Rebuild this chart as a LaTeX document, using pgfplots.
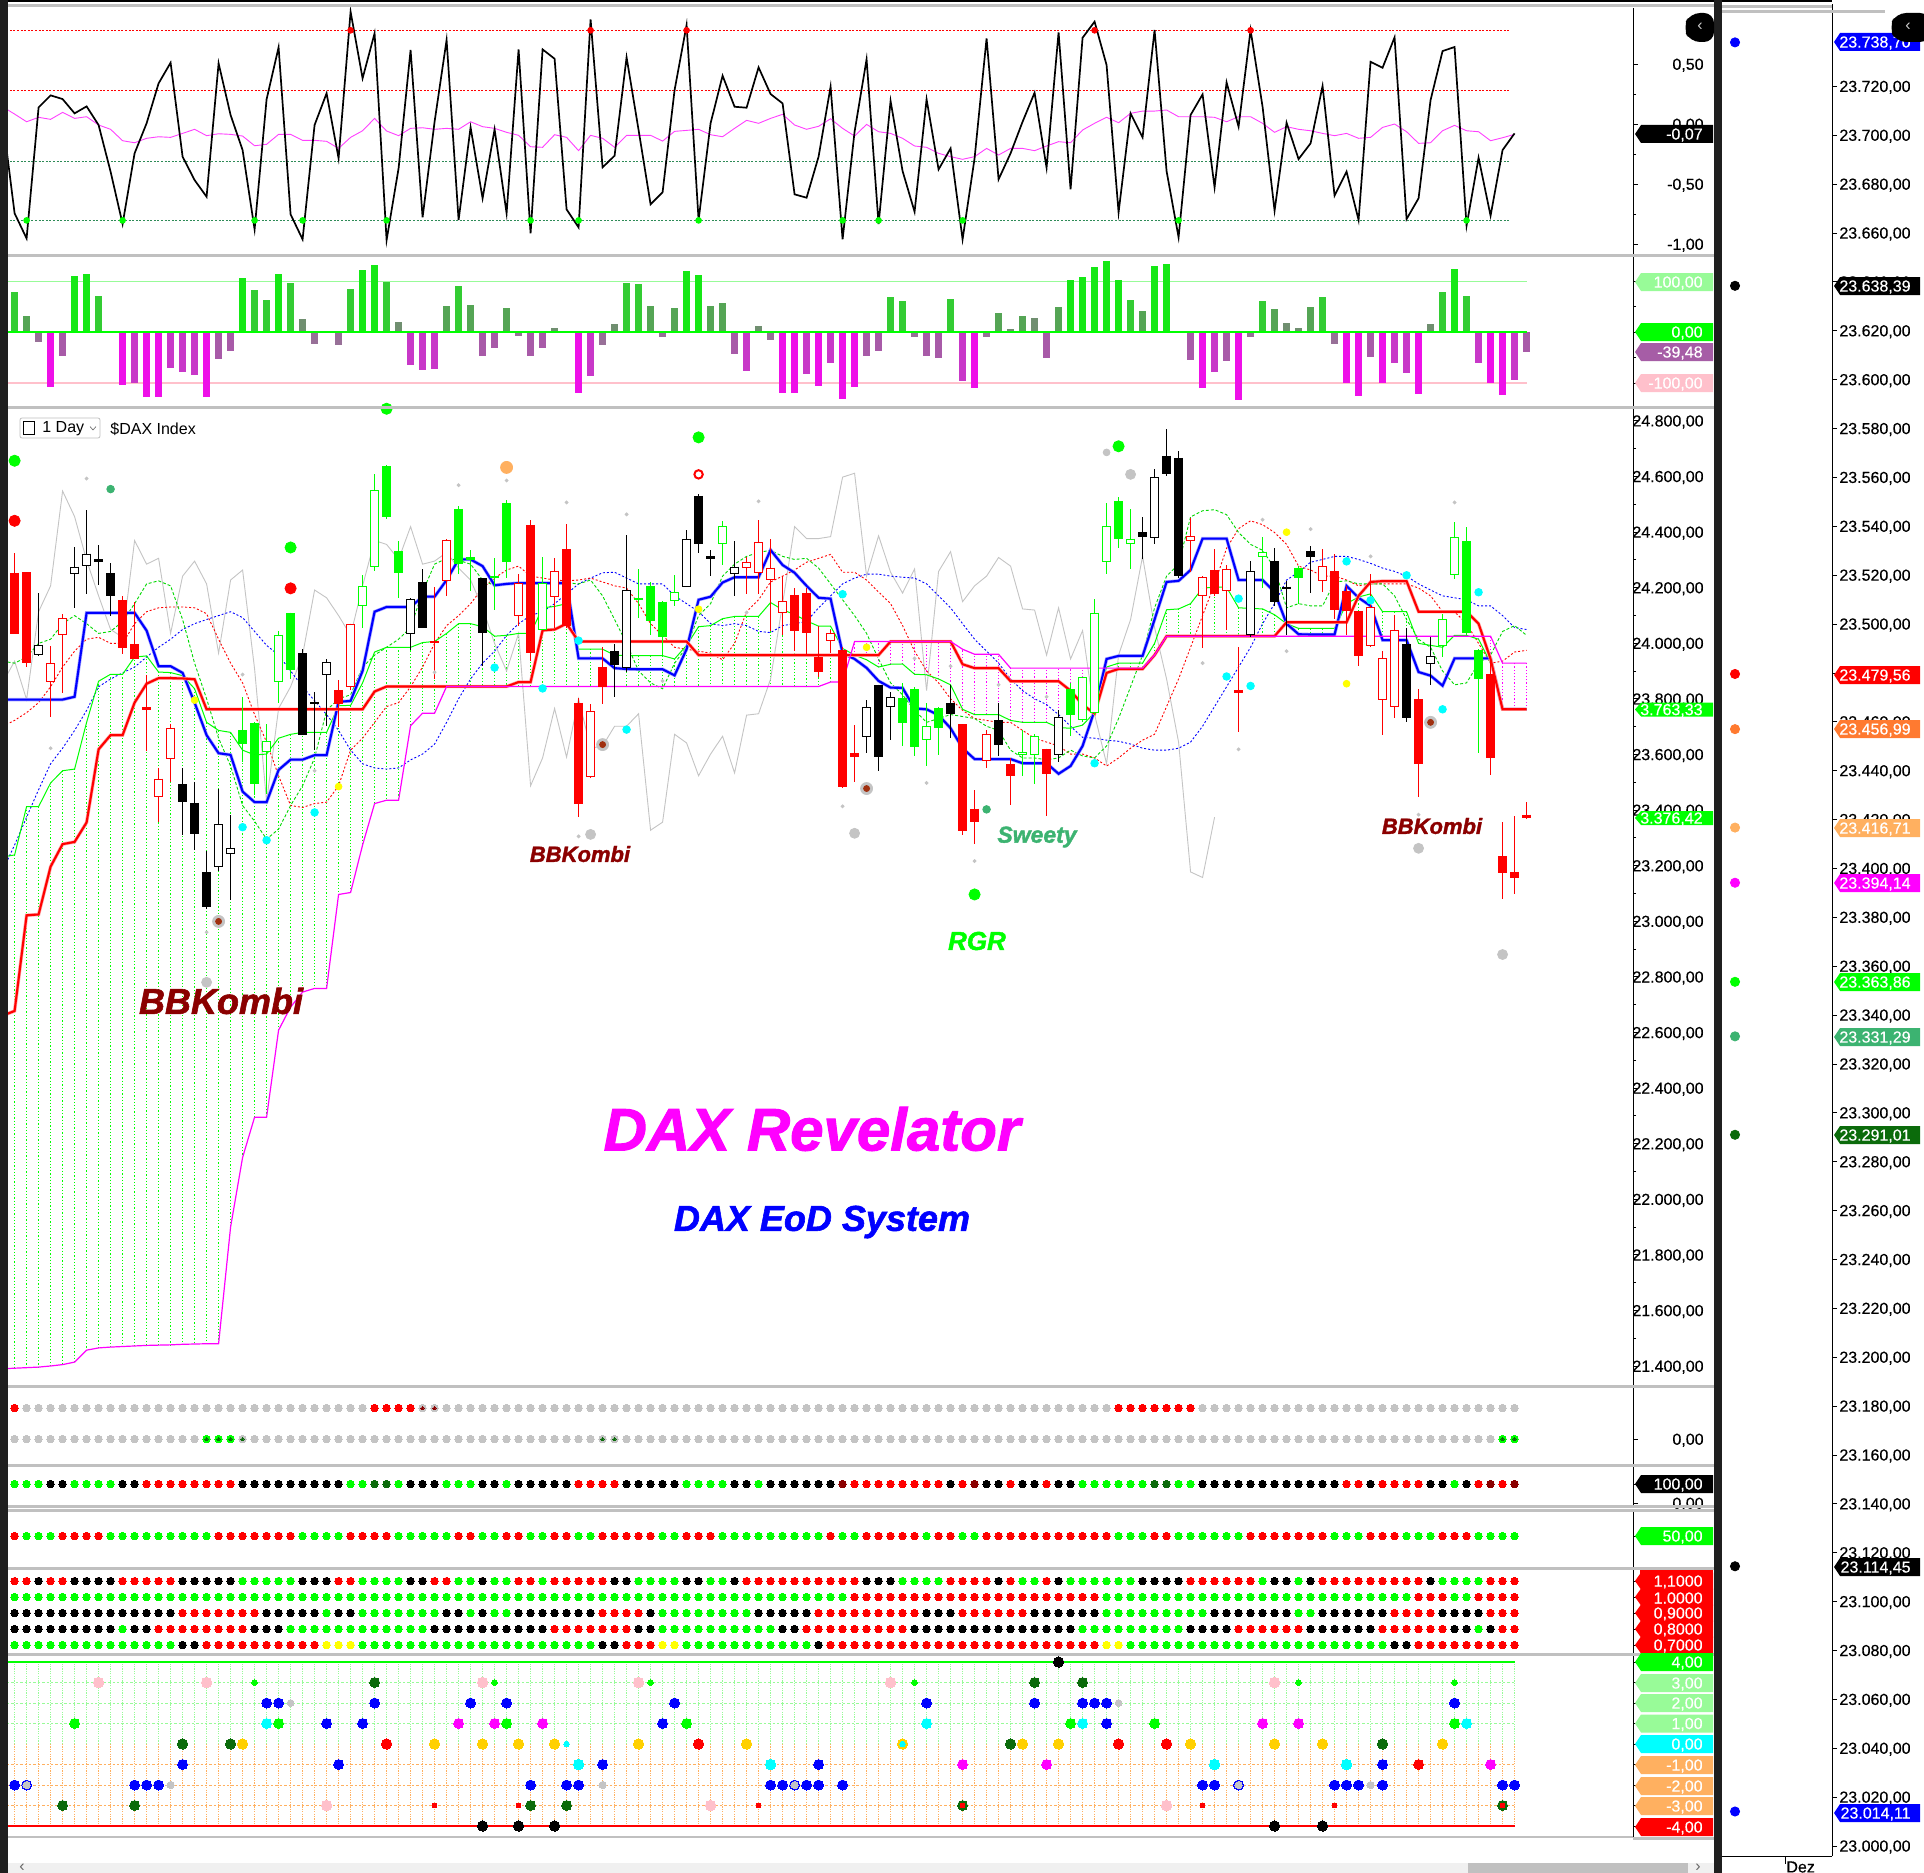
\documentclass[border=0pt]{standalone}
\usepackage{fontspec}
\setmainfont{Liberation Sans}
\usepackage{pgfplots}
\usepackage{pgfplotstable}
\pgfplotsset{compat=1.18}
\definecolor{sg}{HTML}{2E8B57}
\definecolor{sweety}{HTML}{3CB371}
\definecolor{dg}{HTML}{0B6B0B}
\definecolor{dr}{HTML}{8B0000}
\definecolor{lime}{HTML}{00FF00}
\definecolor{gry}{HTML}{C4C4C4}
\definecolor{sep}{HTML}{C0C0C0}
\definecolor{gold}{HTML}{FFD000}
\definecolor{pnk}{HTML}{FFC0CB}
\definecolor{orng}{HTML}{FFB060}
\definecolor{orng2}{HTML}{FF7A30}
\definecolor{palegr}{HTML}{98FB98}
\definecolor{purp}{HTML}{A65DA6}
\definecolor{mag}{HTML}{FF00FF}
\definecolor{magthin}{HTML}{FF40FF}
\definecolor{brn}{HTML}{A03010}
\definecolor{cyn}{HTML}{00FFFF}
\definecolor{yel}{HTML}{FFFF00}
\newfontfamily\heavy[FakeBold=1.6]{Liberation Sans}
\newfontfamily\lab[FakeBold=0.35]{Liberation Sans}
\newcommand\fs{\lab\fontsize{8}{9}\selectfont}
\newcommand\fp{\fontsize{8}{9}\selectfont}
% main-panel lines
\pgfplotstableread{
i blue red green mag
-1 23797 22660 23231 21390
0 23797 22677 23238 21392
1 23797 23021 23412 21394
2 23797 23024 23412 21396
3 23797 23196 23497 21400
4 23797 23277 23541 21405
5 23807 23285 23547 21414
6 24109 23355 23715 21457
7 24109 23618 23863 21465
8 24109 23669 23888 21468
9 24109 23669 23888 21470
10 24109 23786 23950 21472
11 24045 23854 23954 21474
12 23917 23874 23896 21475
13 23917 23874 23894 21476
14 23893 23873 23883 21478
15 23786 23870 23836 21479
16 23669 23762 23715 21480
17 23604 23762 23686 21480
18 23598 23762 23679 21900
19 23466 23762 23615 22150
20 23428 23762 23598 22295
21 23428 23762 23601 22295
22 23544 23762 23658 22608
23 23581 23762 23672 22691
24 23581 23762 23679 22745
25 23597 23762 23679 22758
26 23597 23762 23679 22758
27 23789 23762 23775 23096
28 23792 23762 23776 23103
29 23900 23762 23857 23274
30 24113 23826 23968 23423
31 24130 23844 23985 23435
32 24130 23844 23985 23435
33 24130 23844 23985 23703
34 24167 23844 24002 23748
35 24167 23844 24006 23748
36 24227 23844 24035 23844
37 24301 23844 24070 23844
38 24301 23844 24070 23844
39 24277 23844 24059 23844
40 24208 23844 24025 23844
41 24213 23844 24028 23844
42 24216 23860 24035 23844
43 24216 23860 24035 23844
44 24216 24046 24127 23844
45 24216 24049 24132 23844
46 24216 24070 24142 23844
47 23945 24006 23978 23844
48 23945 24006 23978 23844
49 23945 24006 23978 23844
50 23910 24006 23957 23844
51 23907 24006 23955 23844
52 23906 24006 23955 23844
53 23906 24006 23955 23844
54 23906 24006 23955 23844
55 23884 24006 23943 23844
56 23978 24006 23992 23844
57 24156 23957 24059 23844
58 24167 23957 24063 23844
59 24218 23957 24088 23844
60 24237 23957 24096 23844
61 24237 23957 24096 23844
62 24237 23957 24096 23844
63 24335 23957 24146 23844
64 24281 23957 24120 23844
65 24253 23957 24103 23844
66 24206 23957 24080 23844
67 24163 23957 24061 23844
68 24160 23957 24061 23860
69 23964 23957 23981 23860
70 23943 23957 23957 24006
71 23911 23957 23940 24006
72 23864 23957 23914 24006
73 23840 24006 23924 24006
74 23839 24006 23925 24006
75 23765 24006 23888 24006
76 23762 24006 23886 24006
77 23741 24006 23871 24006
78 23694 24006 23850 24006
79 23622 23924 23762 23978
80 23583 23910 23743 23960
81 23583 23910 23743 23960
82 23583 23910 23743 23960
83 23583 23863 23722 23910
84 23568 23863 23715 23910
85 23568 23863 23715 23910
86 23568 23863 23715 23910
87 23530 23863 23696 23910
88 23558 23829 23694 23910
89 23630 23779 23705 23910
90 23758 23746 23750 23910
91 23943 23893 23914 23910
92 23954 23907 23928 23910
93 23954 23907 23928 23910
94 23954 23907 23928 23910
95 24085 23957 23999 23957
96 24220 24025 24120 24025
97 24224 24025 24123 24025
98 24263 24025 24142 24025
99 24376 24025 24198 24025
100 24376 24025 24201 24025
101 24376 24025 24201 24025
102 24227 24025 24127 24025
103 24227 24025 24125 24025
104 24227 24025 24123 24025
105 24184 24025 24102 24025
106 24070 24075 24070 24025
107 24032 24075 24053 24025
108 24031 24075 24053 24025
109 24031 24075 24053 24025
110 24031 24075 24053 24025
111 24206 24075 24142 24025
112 24163 24170 24166 24025
113 24134 24220 24177 24025
114 24011 24223 24113 24025
115 24011 24223 24113 24025
116 24011 24223 24113 24025
117 23896 24113 23999 24025
118 23883 24113 23992 24025
119 23847 24113 23985 24025
120 23945 24113 24028 24025
121 23945 24113 24028 24025
122 23945 24070 24014 24025
123 23945 23943 23928 24025
124 23762 23762 23762 23928
125 23762 23762 23762 23928
126 23762 23762 23762 23928
}\mainlines
% dashed lines and grey line
\pgfplotstableread{
i rd gd bd
-1 23701 23935 23182
0 23722 23928 23274
1 23750 23950 23374
2 23786 23999 23473
3 23843 24014 23566
4 23914 24070 23622
5 23971 24099 23686
6 24014 24070 23758
7 24021 24035 23843
8 23999 24042 23871
9 23999 24078 23893
10 24070 24142 23914
11 24113 24213 23950
12 24127 24224 23985
13 24130 24206 24014
14 24130 24085 24049
15 24127 23928 24070
16 24106 23800 24085
17 24014 23658 24099
18 23928 23558 24113
19 23857 23416 24092
20 23743 23359 24042
21 23644 23295 23992
22 23523 23331 23957
23 23416 23416 23900
24 23409 23487 23843
25 23423 23587 23793
26 23428 23758 23743
27 23487 23800 23686
28 23615 23814 23615
29 23658 23914 23566
30 23715 23957 23551
31 23772 23985 23547
32 23786 24014 23551
33 23843 24056 23580
34 23914 24184 23601
35 23999 24284 23637
36 24063 24305 23715
37 24099 24298 23800
38 24142 24284 23871
39 24198 24227 23928
40 24234 24206 23971
41 24263 24213 24028
42 24277 24217 24070
43 24241 24217 24099
44 24234 24217 24113
45 24227 24217 24142
46 24224 24217 24177
47 24227 24213 24213
48 24234 24227 24234
49 24220 24170 24253
50 24206 24085 24255
51 24198 23999 24234
52 24142 23900 24213
53 24070 23857 24213
54 24028 23836 24213
55 23985 23928 24170
56 23978 23985 24142
57 23971 24099 24113
58 23964 24142 24070
59 23940 24241 24063
60 23999 24284 24070
61 24113 24312 24063
62 24156 24326 24042
63 24220 24334 24038
64 24241 24312 24063
65 24263 24301 24070
66 24291 24305 24078
67 24305 24270 24127
68 24319 24213 24170
69 24255 24156 24213
70 24255 24099 24234
71 24227 24035 24248
72 24184 23943 24248
73 24142 23857 24241
74 24063 23814 24237
75 23971 23758 24234
76 23900 23715 24213
77 23857 23729 24170
78 23800 23743 24127
79 23758 23736 24070
80 23729 23729 24014
81 23722 23701 23971
82 23715 23686 23928
83 23715 23615 23871
84 23686 23587 23829
85 23658 23587 23800
86 23644 23580 23779
87 23630 23587 23743
88 23601 23615 23701
89 23601 23594 23661
90 23587 23587 23658
91 23558 23630 23651
92 23587 23729 23647
93 23622 23843 23637
94 23651 23957 23622
95 23672 24127 23615
96 23772 24241 23615
97 23871 24284 23622
98 23985 24454 23644
99 24099 24476 23701
100 24213 24480 23772
101 24341 24462 23843
102 24412 24398 23914
103 24440 24355 23985
104 24426 24334 24070
105 24398 24270 24142
106 24355 24127 24227
107 24277 24142 24255
108 24263 24134 24291
109 24241 24134 24301
110 24241 24220 24312
111 24227 24224 24312
112 24206 24213 24301
113 24213 24213 24287
114 24213 24213 24270
115 24213 24170 24258
116 24213 24085 24241
117 24198 24014 24213
118 24170 23985 24191
119 24113 23900 24170
120 24113 23850 24163
121 24070 23857 24156
122 23999 23928 24134
123 23928 23957 24134
124 23935 24042 24099
125 23968 24063 24056
126 23974 24028 24049
}\dashlines
\pgfplotstableread{
i g
-1 23857
0 23935
1 23797
2 24113
3 24206
4 24547
5 24455
6 24298
7 24170
8 24049
9 24021
10 24369
11 24284
12 24305
13 24035
14 24241
15 24295
16 24213
17 23964
18 24227
19 24263
20 23907
21 23430
22 23765
23 23843
24 23957
25 24191
26 24163
27 24099
28 24028
29 24206
30 24369
31 24355
32 24301
33 24419
34 24284
35 24295
36 24326
37 24270
38 24227
39 24127
40 23999
41 23900
42 24035
43 23487
44 23587
45 23765
46 23590
47 23800
48 23622
49 23630
50 23701
51 23701
52 23746
53 23327
54 23356
55 23672
56 23641
57 23523
58 23601
59 23665
60 23533
61 23741
62 23746
63 23871
64 24142
65 24419
66 24376
67 24376
68 24383
69 24597
70 24611
71 24241
72 24386
73 24255
74 24180
75 24267
76 23829
77 24258
78 24329
79 24149
80 24206
81 24241
82 24308
83 24277
84 24123
85 24119
86 23957
87 24127
88 23943
89 24045
90 23743
91 23566
92 23957
93 24085
94 24312
95 24056
96 23871
97 23644
98 23177
99 23157
100 23374
}\greyline
% candles: i top bottom low high
\pgfplotstableread{
i t b l h
0 24253 24032 24032 24324
1 24255 23928 23914 24255
9 24154 23982 23961 24170
10 23996 23942 23942 24149
11 23769 23759 23612 23886
27 23832 23780 23698 23866
35 24009 23999 23871 24203
43 24425 23964 23935 24443
46 24338 24063 24056 24430
47 23785 23423 23376 23803
49 23914 23843 23782 23985
65 24173 24042 23971 24198
66 24180 24038 23957 24198
67 23950 23897 23878 24063
69 23975 23483 23480 23985
70 23604 23591 23501 23705
79 23709 23325 23310 23709
80 23405 23355 23277 23473
83 23566 23523 23419 23587
86 23620 23530 23378 23620
100 24263 24177 24170 24338
102 23832 23822 23682 23985
110 24260 24120 24085 24322
111 24187 24117 24028 24206
112 24116 23955 23918 24116
117 23799 23567 23447 23834
123 23888 23587 23527 23935
124 23234 23174 23079 23356
125 23177 23156 23099 23378
126 23383 23372 23369 23430
}\redF
\pgfplotstableread{
i t b l h
3 23927 23861 23736 23989
4 24089 24031 23822 24103
12 23513 23445 23355 23551
13 23696 23584 23499 23708
28 24070 23843 23832 24070
36 24371 24224 24170 24376
42 24216 24096 24063 24248
45 24261 24167 24056 24305
48 23755 23519 23516 23782
61 24291 24271 24177 24309
62 24362 24254 24177 24443
63 24272 24227 24042 24376
64 24150 24107 24028 24241
68 24035 24009 23964 24049
81 23672 23575 23551 23686
98 24386 24369 24255 24450
99 24237 24169 23982 24241
101 24268 24186 24049 24281
109 24277 24225 24184 24338
113 24129 23988 23985 24248
114 23945 23797 23669 23971
115 24046 23772 23729 24102
}\redH
\pgfplotstableread{
i t b l h
7 24301 24293 24210 24352
8 24253 24170 24096 24288
14 23493 23430 23310 23551
15 23425 23315 23257 23502
16 23177 23051 23044 23253
24 23964 23669 23669 23978
25 23789 23781 23615 23824
34 24220 24056 24056 24267
39 24234 24038 23917 24234
50 23972 23921 23805 23997
57 24530 24358 24324 24537
58 24312 24304 24241 24334
72 23850 23591 23540 23850
78 23783 23746 23658 23850
82 23722 23634 23594 23786
94 24398 24383 24302 24454
96 24674 24608 24601 24770
97 24666 24241 24234 24691
105 24295 24147 24134 24341
106 24203 24195 24028 24224
108 24331 24308 24180 24348
116 23997 23732 23718 24056
}\blackF
\pgfplotstableread{
i t b l h
2 23995 23957 23954 24181
5 24275 24250 24127 24345
6 24322 24278 24177 24479
17 23348 23193 23182 23477
18 23264 23241 23075 23383
26 23931 23884 23701 23942
33 24157 24033 23975 24163
51 24190 23910 23897 24390
56 24376 24203 24203 24408
60 24275 24250 24170 24369
71 23769 23661 23605 23797
73 23805 23769 23651 23826
87 23736 23598 23573 23758
95 24597 24379 24358 24628
103 24258 24031 24021 24294
118 23955 23924 23850 24021
}\blackH
\pgfplotstableread{
i t b l h
19 23686 23637 23573 23807
20 23711 23494 23452 23715
23 24109 23903 23871 24109
31 24637 24452 24447 24639
32 24331 24253 24163 24366
37 24483 24285 24248 24493
38 24308 24300 24187 24335
40 24241 24233 24120 24305
41 24504 24292 24234 24514
52 24163 24155 24092 24265
53 24206 24078 24028 24220
54 24149 24022 23957 24152
74 23803 23712 23630 23857
75 23834 23627 23594 23843
77 23765 23696 23598 23769
88 23834 23743 23665 23857
92 24511 24376 24341 24526
107 24272 24234 24142 24277
121 24368 24036 24028 24416
122 23975 23871 23605 23978
}\greenF
\pgfplotstableread{
i t b l h
21 23647 23607 23459 23708
22 24031 23861 23783 24042
29 24204 24132 24056 24245
30 24550 24275 24258 24607
44 24216 24049 24049 24308
55 24183 24153 24134 24244
59 24420 24355 24281 24440
76 23701 23650 23558 23783
84 23607 23598 23523 23686
85 23665 23598 23494 23672
89 23877 23722 23715 23878
90 24110 23750 23743 24160
91 24420 24291 24247 24503
93 24376 24355 24267 24483
104 24329 24308 24198 24383
119 24085 23988 23950 24106
120 24380 24244 24231 24437
}\greenH
% helpers
\pgfplotsset{nomark/.style={only marks, mark=*, mark size=0pt, mark options={draw=none,fill=none}}}
\newcommand\RowPlot[3]{\gdef\tmpc{}\foreach \k in {#3}{\xdef\tmpc{\tmpc(\k,#2)}}%
 \edef\tmpd{\noexpand\addplot[#1] coordinates {\tmpc};}\tmpd}
\newcommand\Dots[4][1.85pt]{\RowPlot{only marks, mark=*, mark size=#1, mark options={draw=#3, fill=#3, line width=0pt}}{#2}{#4}}
\newcommand\Body[3]{% table, colour, hollow(1/0)
 \addplot[nomark, forget plot, error bars/.cd, y dir=both, y explicit, error mark=none,
   error bar style={line width=0.6pt, color=#2}] table[x=i, y=t, y error plus expr=\thisrow{h}-\thisrow{t}, y error minus expr=\thisrow{t}-\thisrow{l}] {#1};
 \addplot[nomark, forget plot, error bars/.cd, y dir=minus, y explicit, error mark=none,
   error bar style={line width=4.2pt, color=#2}] table[x=i, y=t, y error minus expr=\thisrow{t}-\thisrow{b}] {#1};
 \ifnum#3=1
 \addplot[nomark, forget plot, error bars/.cd, y dir=minus, y explicit, error mark=none,
   error bar style={line width=3.2pt, color=white}] table[x=i, y expr=\thisrow{t}-3.6, y error minus expr=\thisrow{t}-\thisrow{b}-7.2] {#1};
 \fi}
\newcommand\Tag[5]{% y,h,fill,textcolour,text
 \fill[#3] (1635,#1) -- (1641,{#1-#2/2}) -- (1713,{#1-#2/2}) -- (1713,{#1+#2/2}) -- (1641,{#1+#2/2}) -- cycle;
 \node[anchor=east, inner sep=0pt, text=#4, font=\fs] at (1703,{#1+1}) {#5};}
\newcommand\RTag[4]{% y,fill,textcolour,text
 \fill[#2] (1834,#1) -- (1840,{#1-9}) -- (1920,{#1-9}) -- (1920,{#1+9}) -- (1840,{#1+9}) -- cycle;
 \node[anchor=east, inner sep=0pt, text=#3, font=\fs] at (1911,{#1+1}) {#4};}
\pgfplotsset{panel/.style={scale only axis, anchor=north west, width=812.5pt, xmin=-0.55, xmax=134.87,
  axis x line=none, axis y line=right, axis line style={-,line width=0.5pt}, tick style={black,line width=0.4pt},
  major tick length=2.5pt, minor tick length=1.5pt, tick align=outside, enlargelimits=false, clip=true, scaled y ticks=false,
  yticklabel style={font=\fs, anchor=east, xshift=33pt, yshift=-0.6pt, inner sep=0pt},
  /pgf/number format/.cd, fixed, fixed zerofill, precision=2, use comma, assume math mode=true}}
\begin{document}
\begin{tikzpicture}
\useasboundingbox (0,0) rectangle (962pt,-936.5pt);
\fill[white] (0,0) rectangle (962pt,-936.5pt);
% panel 1
\begin{axis}[panel, at={(4pt,-4pt)}, height=123pt, ymin=-1.083, ymax=0.967, ytick={-1,-0.5,0,0.5}, minor y tick num=1]
\addplot[red, line width=0.6pt, dash pattern=on 1pt off 0.8pt] coordinates {(-1,0.781)(124.7,0.781)};
\addplot[red, line width=0.6pt, dash pattern=on 1pt off 0.8pt] coordinates {(-1,0.281)(124.7,0.281)};
\addplot[sg, line width=0.6pt, dash pattern=on 1pt off 0.8pt] coordinates {(-1,-0.311)(124.7,-0.311)};
\addplot[sg, line width=0.6pt, dash pattern=on 1pt off 0.8pt] coordinates {(-1,-0.803)(124.7,-0.803)};
\addplot[magthin, line width=0.45pt] coordinates {(-1,.144)(0,.083)(1,.019)(2,.056)(3,.039)(4,.097)(5,.047)(6,.061)(7,-.008)(8,-.044)(9,-.139)(10,-.156)(11,-.119)(12,-.106)(13,-.111)(14,-.078)(15,-.044)(16,-.097)(17,-.081)(18,-.086)(19,-.1)(20,-.181)(21,-.169)(22,-.086)(23,-.086)(24,-.136)(25,-.136)(26,-.144)(27,-.203)(28,-.111)(29,-.056)(30,.047)(31,-.058)(32,-.097)(33,-.036)(34,-.031)(35,-.044)(36,-.036)(37,-.044)(38,.019)(39,-.022)(40,-.036)(41,-.069)(42,-.094)(43,-.189)(44,-.194)(45,-.089)(46,-.111)(47,-.222)(48,-.094)(49,-.119)(50,-.194)(51,-.094)(52,-.094)(53,-.094)(54,-.142)(55,-.061)(56,-.053)(57,-.044)(58,-.089)(59,-.106)(60,-.036)(61,.031)(62,.006)(63,.047)(64,.081)(65,-.008)(66,-.044)(67,-.019)(68,.044)(69,-.036)(70,-.1)(71,-.003)(72,-.064)(73,-.078)(74,-.119)(75,-.183)(76,-.194)(77,-.244)(78,-.272)(79,-.294)(80,-.272)(81,-.203)(82,-.258)(83,-.203)(84,-.203)(85,-.222)(86,-.183)(87,-.147)(88,-.156)(89,-.05)(90,.006)(91,.056)(92,.011)(93,.089)(94,.108)(95,.108)(96,.117)(97,.061)(98,.061)(99,.061)(100,.056)(101,.019)(102,.061)(103,.061)(104,.006)(105,-.069)(106,-.022)(107,-.044)(108,-.056)(109,-.078)(110,-.097)(111,-.078)(112,-.119)(113,-.111)(114,-.028)(115,0)(116,-.064)(117,-.161)(118,-.156)(119,-.056)(120,-.011)(121,-.056)(122,-.064)(123,-.139)(124,-.114)(125,-.086)};
\addplot[black, line width=0.85pt] coordinates {(-1,.05)(0,-.744)(1,-.953)(2,.139)(3,.239)(4,.208)(5,.089)(6,.147)(7,-.008)(8,-.397)(9,-.833)(10,-.244)(11,.006)(12,.339)(13,.511)(14,-.272)(15,-.467)(16,-.606)(17,.506)(18,.075)(19,-.217)(20,-.878)(21,.206)(22,.639)(23,-.753)(24,-.961)(25,-.008)(26,.256)(27,-.286)(28,.936)(29,.381)(30,.756)(31,-.967)(32,-.369)(33,.617)(34,-.778)(35,.019)(36,.7)(37,-.8)(38,-.028)(39,-.619)(40,-.044)(41,-.744)(42,.622)(43,-.911)(44,.622)(45,.544)(46,-.711)(47,-.861)(48,.872)(49,-.361)(50,-.264)(51,.556)(52,-.05)(53,-.669)(54,-.569)(55,.283)(56,.825)(57,-.8)(58,.006)(59,.403)(60,.144)(61,.136)(62,.472)(63,.25)(64,.172)(65,-.586)(66,-.614)(67,-.272)(68,.311)(69,-.961)(70,-.064)(71,.539)(72,-.833)(73,.192)(74,-.392)(75,-.731)(76,.206)(77,-.378)(78,-.203)(79,-.961)(80,-.286)(81,.714)(82,-.461)(83,-.244)(84,.019)(85,.261)(86,-.364)(87,.764)(88,-.544)(89,.719)(90,.853)(91,.492)(92,-.736)(93,.089)(94,-.111)(95,.783)(96,-.392)(97,-.944)(98,.075)(99,.247)(100,-.528)(101,.347)(102,-.022)(103,.783)(104,.144)(105,-.722)(106,.011)(107,-.292)(108,-.161)(109,.317)(110,-.597)(111,-.397)(112,-.8)(113,.519)(114,.469)(115,.722)(116,-.792)(117,-.619)(118,.2)(119,.608)(120,.642)(121,-.847)(122,-.281)(123,-.764)(124,-.217)(125,-.078)};
\addplot[only marks, mark=*, mark size=1.45pt, mark options={draw=red,fill=red}] coordinates {(28,.781)(48,.781)(56,.781)(90,.781)(103,.781)};
\addplot[only marks, mark=*, mark size=1.45pt, mark options={draw=lime,fill=lime}] coordinates {(1,-.803)(9,-.803)(20,-.803)(24,-.803)(31,-.803)(43,-.803)(47,-.803)(57,-.803)(69,-.803)(72,-.803)(79,-.803)(97,-.803)(121,-.803)};
\end{axis}
% panel 2
\begin{axis}[panel, at={(4pt,-128.5pt)}, height=74.5pt, ymin=-145.1, ymax=148.2, ytick={-100,0,100}, minor y tick num=1, yticklabels={}]
\addplot[palegr, line width=0.6pt] coordinates {(-1,100)(126,100)};
\addplot[pnk, line width=0.6pt] coordinates {(-1,-100)(126,-100)};
\addplot[ycomb, line width=3.5pt, color={rgb,255:red,21;green,232;blue,21}] coordinates {(5,111)(6,115)(19,107)(22,115)(29,123)(30,132)(56,121)(57,113)(88,103)(89,109)(90,129)(91,140)(92,103)(95,131)(96,135)(120,125)};
\addplot[ycomb, line width=3.5pt, color={rgb,255:red,51;green,204;blue,51}] coordinates {(0,79)(7,72)(20,83)(21,64)(23,97)(28,85)(31,99)(37,91)(51,97)(52,95)(73,70)(74,62)(78,66)(93,64)(104,62)(109,70)(119,79)(121,72)};
\addplot[ycomb, line width=3.5pt, color={rgb,255:red,85;green,165;blue,85}] coordinates {(1,32)(36,52)(38,54)(41,48)(53,52)(55,48)(58,52)(59,58)(82,38)(84,32)(87,50)(94,42)(105,46)(108,50)};
\addplot[ycomb, line width=3.5pt, color={rgb,255:red,112;green,143;blue,112}] coordinates {(8,3)(24,26)(32,20)(45,8)(46,3)(50,16)(62,12)(83,7)(85,28)(106,18)(107,9)(118,16)};
\addplot[ycomb, line width=3.5pt, color={rgb,255:red,238;green,16;blue,232}] coordinates {(3,-107)(9,-104)(11,-127)(12,-127)(16,-127)(47,-119)(64,-119)(65,-119)(67,-105)(69,-131)(70,-107)(80,-109)(99,-109)(102,-133)(111,-100)(112,-125)(114,-100)(117,-121)(123,-100)(124,-123)};
\addplot[ycomb, line width=3.5pt, color={rgb,255:red,200;green,56;blue,200}] coordinates {(10,-99)(13,-70)(14,-78)(15,-84)(33,-64)(34,-74)(35,-72)(48,-87)(61,-77)(66,-83)(68,-60)(79,-95)(100,-79)(115,-60)(116,-81)(122,-60)(125,-94)};
\addplot[ycomb, line width=3.5pt, color={rgb,255:red,168;green,90;blue,168}] coordinates {(4,-47)(17,-52)(18,-36)(39,-46)(40,-30)(43,-46)(44,-30)(60,-42)(71,-46)(72,-36)(76,-46)(77,-50)(86,-50)(98,-54)(101,-56)(113,-48)(126,-38)};
\addplot[ycomb, line width=3.5pt, color={rgb,255:red,152;green,112;blue,152}] coordinates {(2,-20)(25,-24)(27,-26)(42,-7)(49,-26)(54,-10)(63,-16)(75,-9)(81,-10)(103,-10)(110,-24)};
\addplot[lime, line width=1pt] coordinates {(-1,0)(126,0)};
\end{axis}
% main panel
\begin{axis}[panel, at={(4pt,-204pt)}, height=489pt, ymin=21328, ymax=24845.7, ytick={21400,21600,...,24800}, minor y tick num=1,
  /pgf/number format/1000 sep={.}]
\addplot[nomark, error bars/.cd, y dir=minus, y explicit, error mark=none, error bar style={lime, line width=0.35pt, dash pattern=on 0.6pt off 1pt}]
  table[x=i, y=green, y error minus expr={max(\thisrow{green}-\thisrow{mag},0)}] {\mainlines};
\addplot[nomark, error bars/.cd, y dir=plus, y explicit, error mark=none, error bar style={mag, line width=0.35pt, dash pattern=on 0.6pt off 1pt}]
  table[x=i, y=green, y error plus expr={max(\thisrow{mag}-\thisrow{green},0)}] {\mainlines};
\addplot[gry, line width=0.45pt] table[x=i,y=g] {\greyline};
\addplot[blue, line width=0.45pt, dash pattern=on 1pt off 1pt] table[x=i,y=bd] {\dashlines};
\addplot[red, line width=0.45pt, dash pattern=on 1pt off 1pt] table[x=i,y=rd] {\dashlines};
\addplot[lime!85!black, line width=0.45pt, dash pattern=on 1.5pt off 1pt] table[x=i,y=gd] {\dashlines};
\addplot[lime, line width=0.5pt] table[x=i,y=green] {\mainlines};
\addplot[blue!35, line width=1.7pt] table[x=i,y=blue] {\mainlines};
\addplot[blue, line width=1.05pt] table[x=i,y=blue] {\mainlines};
\addplot[red!35, line width=1.7pt] table[x=i,y=red] {\mainlines};
\addplot[red, line width=1.05pt] table[x=i,y=red] {\mainlines};
\addplot[mag, line width=0.6pt] table[x=i,y=mag] {\mainlines};
\Body{\redF}{red}{0}
\Body{\redH}{red}{1}
\Body{\blackF}{black}{0}
\Body{\blackH}{black}{1}
\Body{\greenF}{lime}{0}
\Body{\greenH}{lime}{1}
\addplot[only marks, mark=*, mark size=0.75pt, mark options={draw=gry,fill=gry}] coordinates {(6,24592)(3,23622)(37,24568)(41,24585)(46,24506)(51,24463)(62,24510)(19,23887)(16,22960)(35,23895)(47,23305)(25,23541)(61,24110)(54,23864)(76,23497)(69,23413)(75,23945)(78,23917)(80,23216)(82,23850)(86,23807)(99,23928)(102,23618)(106,23971)(104,24444)(108,24410)(113,24312)(117,23383)(120,24506)};
\addplot[only marks, mark=*, mark size=2.5pt, mark options={draw=gry,fill=gry}] coordinates {(16,22780)(48,23312)(70,23316)(93,24607)(117,23262)(124,22880)};
\addplot[only marks, mark=*, mark size=1.7pt, mark options={draw=gry,fill=gry}] coordinates {(91,24686)};
\addplot[only marks, mark=*, mark size=3pt, mark options={draw=gry,fill=gry}] coordinates {(17,22999)(49,23635)(71,23477)(118,23715)};
\addplot[only marks, mark=*, mark size=1.5pt, mark options={draw=brn,fill=brn}] coordinates {(17,22999)(49,23635)(71,23477)(118,23715)};
\addplot[only marks, mark=*, mark size=2.8pt, mark options={draw=lime,fill=lime}] coordinates {(0,24656)(23,24344)(57,24740)(31,24843)(92,24708)(80,23096)};
\addplot[only marks, mark=*, mark size=2.8pt, mark options={draw=red,fill=red}] coordinates {(0,24440)(23,24197)};
\addplot[only marks, mark=*, mark size=2.1pt, mark options={draw=red,fill=white,line width=1pt}] coordinates {(57,24607)};
\addplot[only marks, mark=*, mark size=1.9pt, mark options={draw=sweety,fill=sweety}] coordinates {(8,24554)(81,23402)};
\addplot[only marks, mark=*, mark size=3pt, mark options={draw=orng,fill=orng}] coordinates {(41,24632)};
\addplot[only marks, mark=*, mark size=1.9pt, mark options={draw=cyn,fill=cyn}] coordinates {(19,23338)(21,23291)(25,23391)(40,23912)(44,23837)(47,24009)(51,23689)(69,24176)(101,23880)(103,23846)(102,24160)(90,23568)(111,24294)(113,24154)(116,24244)(119,23762)(122,24183)};
\addplot[only marks, mark=*, mark size=1.7pt, mark options={draw=yel,fill=yel}] coordinates {(15,23795)(27,23484)(57,24122)(71,23985)(106,24399)(111,23854)};
\end{axis}
% status panel A
\begin{axis}[panel, at={(4pt,-694pt)}, height=38pt, ymin=-0.806, ymax=1.645, ytick={0}]
\Dots{1}{gry}{0,1,...,125}
\Dots{0}{gry}{0,1,...,125}
\Dots{1}{red}{0,30,31,32,33,92,93,94,95,96,97,98}
\Dots[0.8pt]{1}{dr}{34,35}
\Dots{0}{lime}{16,17,18,124,125}
\Dots[0.8pt]{0}{dg}{16,17,18,19,49,50,124,125}
\end{axis}
% status panel B
\begin{axis}[panel, at={(4pt,-733.5pt)}, height=19pt, ymin=-10.5, ymax=189.5, ytick={0,100}]
\Dots{100}{lime}{0,1,2,5,6,7,8,28,29,32,36,37,38,41,56,57,58,59,62,89,90,91,92,93,94,97,98,120}
\Dots{100}{dg}{30,31,95,96}
\Dots{100}{black}{3,4,9,10,19,20,...,27,33,34,35,39,40,42,43,44,45,46,51,52,53,54,55,60,61,63,64,65,66,67,68,78,81,82,84,85,87,88,99,100,...,110,113,118,119,121}
\Dots{100}{red}{11,12,...,18,47,48,49,50,70,71,...,77,79,83,86,111,112,114,115,116,117,122,124}
\Dots{100}{dr}{69,80,123,125}
\end{axis}
% status panel C
\begin{axis}[panel, at={(4pt,-755pt)}, height=28.5pt, ymin=19, ymax=76, ytick={50}, yticklabels={}]
\Dots{50}{lime}{0,1,...,125}
\Dots{50}{red}{0,4,5,6,7,17,18,...,23,28,29,30,31,37,38,41,42,45,46,49,50,51,52,53,56,57,58,68,71,72,73,74,75,77,78,81,82,...,91,95,96,103,104,...,109,113,114,115,119,120,121}
\end{axis}
% status panel D
\begin{axis}[panel, at={(4pt,-785pt)}, height=41.5pt, ymin=0.65, ymax=1.169, ytick={0.7,0.8,...,1.1}, yticklabels={}]
\Dots{1.1}{red}{0,1,...,125}
\Dots{1.1}{black}{2,5,6,7,8,14,15,16,17,18,24,25,26,33,34,39,50,51,56,57,60,71,72,73,82,87,94,95,96,97,105,106,108,118}
\Dots{1.1}{lime}{19,20,21,22,23,29,30,31,32,37,38,40,41,44,52,53,54,55,58,59,74,75,76,77,84,85,88,89,90,91,92,93,104,107,119,120,121,122}
\Dots{1.0}{lime}{0,1,...,125}
\Dots{1.0}{red}{70,71,...,90,117,118,119,122,123,124,125}
\Dots{0.9}{red}{0,1,...,125}
\Dots{0.9}{black}{0,1,...,13,21,22,23,24,25,27,28,36,37,39,42,43,...,48,53,62,63,64,65,66,76,77,78,85,86,87,88,89,90,100,101,...,106,109,110,...,114,119,120,121,122}
\Dots{0.9}{lime}{26,29,30,...,35,38,40,41,54,55,...,61,91,92,...,99,107,108}
\Dots{0.8}{red}{0,1,...,125}
\Dots{0.8}{black}{0,1,...,8,10,11,20,21,22,35,36,...,44,52,53,64,65,75,76,...,88,98,99,100,101,108,109,...,113,120,121,123}
\Dots{0.8}{lime}{9,23,24,...,34,54,55,...,63,89,90,...,97,122}
\Dots{0.7}{lime}{0,1,...,125}
\Dots{0.7}{black}{14,15,49,50,67,115,116}
\Dots{0.7}{red}{16,17,...,25,51,52,53,68,69,...,90,117,118,...,125}
\Dots{0.7}{yel}{26,27,28,54,55,91,92}
\end{axis}
% oscillator panel
\begin{axis}[panel, at={(4pt,-828pt)}, height=91.5pt, ymin=-4.634, ymax=4.293, ytick={-4,-3,...,4}, yticklabels={},
  axis x line=bottom, x axis line style={-,line width=0.9pt}, xtick={3,24,47,68,90,113,133}, xticklabels={Jun,Jul,Aug,Sep,Okt,Nov,{}},
  xticklabel style={font=\fs, anchor=north west, inner sep=0pt, xshift=1pt, yshift=-1pt}, x tick style={line width=0.5pt,black}, xtick pos=bottom, major tick length=3.5pt]
\RowPlot{ycomb, no markers, color=palegr, line width=0.35pt, dash pattern=on 0.6pt off 0.6pt}{4}{0,1,...,125}
\RowPlot{ycomb, no markers, color=orng, line width=0.35pt, dash pattern=on 0.6pt off 0.6pt}{-4}{0,1,...,125}
\addplot[palegr, line width=0.5pt, dash pattern=on 1.2pt off 1pt] coordinates {(-1,3)(125,3)};
\addplot[palegr, line width=0.5pt, dash pattern=on 1.2pt off 1pt] coordinates {(-1,2)(125,2)};
\addplot[palegr, line width=0.5pt, dash pattern=on 1.2pt off 1pt] coordinates {(-1,1)(125,1)};
\addplot[orng, line width=0.5pt, dash pattern=on 1.2pt off 1pt] coordinates {(-1,-1)(125,-1)};
\addplot[orng, line width=0.5pt, dash pattern=on 1.2pt off 1pt] coordinates {(-1,-2)(125,-2)};
\addplot[orng, line width=0.5pt, dash pattern=on 1.2pt off 1pt] coordinates {(-1,-3)(125,-3)};
\addplot[lime, line width=0.6pt] coordinates {(-1,4)(125,4)};
\addplot[red, line width=0.6pt] coordinates {(-1,-4)(125,-4)};
\Dots[2.6pt]{4}{black}{87}
\Dots[2.6pt]{3}{pnk}{7,16,39,52,73,105}
\Dots[1.4pt]{3}{lime}{20,40,53,75,107,120}
\Dots[2.5pt]{3}{dg}{30,85,89}
\Dots[2.5pt]{2}{blue}{21,22,30,38,41,55,76,85,89,90,91,120}
\Dots[1.7pt]{2}{gry}{23,92}
\Dots[2.5pt]{1}{lime}{5,22,41,56,88,95,120}
\Dots[2.5pt]{1}{cyn}{21,76,89,121}
\Dots[2.5pt]{1}{blue}{26,29,54,91}
\Dots[2.5pt]{1}{mag}{37,40,44,104,107}
\Dots[2.6pt]{0}{dg}{14,18,83,114}
\Dots[2.6pt]{0}{gold}{19,35,39,42,45,52,61,74,84,87,98,105,109,119}
\Dots[2.6pt]{0}{red}{31,57,92,96}
\Dots[1.4pt]{0}{cyn}{46,74}
\Dots[2.5pt]{-1}{blue}{14,27,49,67,114}
\Dots[2.6pt]{-1}{cyn}{47,63,100,111}
\Dots[2.5pt]{-1}{mag}{79,86,123}
\Dots[2.5pt]{-1}{red}{117}
\Dots[2.5pt]{-2}{blue}{0,1,10,11,12,43,46,47,63,64,65,66,67,69,99,100,102,110,111,112,114,124,125}
\Dots[1.8pt]{-2}{gry}{1,13,49,65,102,113}
\Dots[2.5pt]{-3}{dg}{4,10,43,46,79,124}
\Dots[1.2pt]{-3}{red}{35,42,62,79,99,110,124}
\Dots[2.6pt]{-3}{pnk}{26,58,96}
\Dots[2.6pt]{-4}{black}{39,42,45,105,109}
\end{axis}
% right scale
\begin{axis}[scale only axis, anchor=north west, at={(861pt,-2pt)}, width=55pt, height=926pt, xmin=0, xmax=110, ymin=22995.9, ymax=23753.7,
  axis x line=none, axis y line=right, axis line style={-,line width=0.5pt}, tick style={black,line width=0.4pt}, major tick length=2.5pt, minor tick length=1.5pt, tick align=outside, scaled y ticks=false,
  ytick={23000,23020,...,23720}, minor y tick num=1, yticklabel style={font=\fs, inner sep=0pt, xshift=1pt, yshift=-0.5pt},
  /pgf/number format/.cd, fixed, fixed zerofill, precision=2, use comma, 1000 sep={.}, assume math mode=true]
\addplot[only marks, mark=*, mark size=2.3pt, mark options={draw=blue,fill=blue}] coordinates {(13,23738)(13,23014.11)};
\addplot[only marks, mark=*, mark size=2.3pt, mark options={draw=black,fill=black}] coordinates {(13,23638.39)(13,23114.45)};
\addplot[only marks, mark=*, mark size=2.3pt, mark options={draw=red,fill=red}] coordinates {(13,23479.56)};
\addplot[only marks, mark=*, mark size=2.3pt, mark options={draw=orng2,fill=orng2}] coordinates {(13,23456.99)};
\addplot[only marks, mark=*, mark size=2.3pt, mark options={draw=orng,fill=orng}] coordinates {(13,23416.71)};
\addplot[only marks, mark=*, mark size=2.3pt, mark options={draw=mag,fill=mag}] coordinates {(13,23394.14)};
\addplot[only marks, mark=*, mark size=2.3pt, mark options={draw=lime,fill=lime}] coordinates {(13,23353.6)};
\addplot[only marks, mark=*, mark size=2.3pt, mark options={draw=sweety,fill=sweety}] coordinates {(13,23331.29)};
\addplot[only marks, mark=*, mark size=2.3pt, mark options={draw=dg,fill=dg}] coordinates {(13,23291.01)};
\end{axis}
\begin{scope}[x=0.5pt,y=-0.5pt]
% frame pieces
\fill[black] (0,0) rectangle (1832,2);
\fill[sep] (8,4) rectangle (1714,7);
\fill[sep] (1722,5) rectangle (1832,8.5);
\fill[sep] (1722,10) rectangle (1885,13);
\foreach \yy in {254,406,1385,1464,1505,1509,1566.5,1653}{\fill[sep] (8,\yy) rectangle (1714,\yy+3);}
\fill[sep] (1633,1837) rectangle (1714,1840);
\fill[sep] (8,1836) rectangle (1633,1838);
\fill[black!6] (8,1863) rectangle (1714,1873);
\fill[sep] (1468,1863) rectangle (1688,1873);
\node[font=\fp, text=black!60] at (22,1868) {‹};
\node[font=\fp, text=black!60] at (1698,1868) {›};
\fill[black!88] (0,0) rectangle (8,1873);
\fill[black!88] (1714,0) rectangle (1722,1873);
\draw[black, line width=0.5pt] (1722,1856) -- (1832,1856);
\draw[black, line width=0.4pt] (1785,1856) -- (1785,1864);
\node[anchor=west, font=\fs, inner sep=0pt] at (1786,1867) {Dez};
% selector
\draw[black!25, rounded corners=1pt, line width=0.4pt, fill=white] (20,418) rectangle (100,438);
\draw[black, line width=0.4pt] (23.5,421.5) rectangle (34,434.5);
\node[anchor=west, font=\fp, inner sep=0pt] at (42,429) {1 Day};
\draw[black!60, line width=0.3pt] (90,426.5) -- (93,430) -- (96,426.5);
\node[anchor=west, font=\fp, inner sep=0pt] at (110,429) {\$DAX Index};
% titles
\node[font={\heavy\bfseries\itshape\fontsize{18}{20}\selectfont}, text=dr] at (221,1001) {BBKombi};
\node[font={\heavy\bfseries\itshape\fontsize{11}{12}\selectfont}, text=dr] at (580,854) {BBKombi};
\node[font={\heavy\bfseries\itshape\fontsize{11}{12}\selectfont}, text=dr] at (1432,826) {BBKombi};
\node[font={\heavy\bfseries\itshape\fontsize{11.5}{12}\selectfont}, text=sweety] at (1037,837) {Sweety};
\node[font={\heavy\bfseries\itshape\fontsize{13}{14}\selectfont}, text=lime] at (977,941) {RGR};
\node[font={\heavy\bfseries\itshape\fontsize{30}{32}\selectfont}, text=mag] at (812,1129) {DAX Revelator};
\node[font={\heavy\bfseries\itshape\fontsize{18}{20}\selectfont}, text=blue] at (822,1222) {DAX EoD System};
% tags, left scale
\Tag{134}{18}{black}{white}{-0,07}
\Tag{282}{18}{palegr}{white}{100,00}
\Tag{332}{18}{lime}{white}{0,00}
\Tag{352}{18}{purp}{white}{-39,48}
\Tag{383}{18}{pnk}{white}{-100,00}
\Tag{709.5}{14}{lime}{white}{3.763,33}
\Tag{818}{14}{lime}{white}{3.376,42}
\Tag{1484}{18}{black}{white}{100,00}
\Tag{1536}{18}{lime}{white}{50,00}
\fill[red] (1640,1570) rectangle (1713,1574);
\Tag{1581}{17}{red}{white}{1,1000}
\Tag{1597}{17}{red}{white}{1.0000}
\Tag{1613}{17}{red}{white}{0,9000}
\Tag{1629}{17}{red}{white}{0,8000}
\Tag{1645}{17}{red}{white}{0,7000}
\Tag{1662}{18}{lime}{white}{4,00}
\Tag{1683}{18}{palegr}{white}{3,00}
\Tag{1703}{18}{palegr}{white}{2,00}
\Tag{1723.5}{18}{palegr}{white}{1,00}
\Tag{1744}{18}{cyn}{white}{0,00}
\Tag{1765}{18}{orng}{white}{-1,00}
\Tag{1786}{18}{orng}{white}{-2,00}
\Tag{1806}{18}{orng}{white}{-3,00}
\Tag{1827}{18}{red}{white}{-4,00}
% tags, right scale
\RTag{42}{blue}{white}{23.738,70}
\RTag{286}{black}{white}{23.638,39}
\RTag{675}{red}{white}{23.479,56}
\RTag{729}{orng2}{white}{23.456,99}
\RTag{828}{orng}{white}{23.416,71}
\RTag{883}{mag}{white}{23.394,14}
\RTag{982}{lime}{white}{23.363,86}
\RTag{1037}{sweety}{white}{23.331,29}
\RTag{1135}{dg}{white}{23.291,01}
\RTag{1567}{black}{white}{23.114,45}
\RTag{1813}{blue}{white}{23.014,11}
% buttons
\fill[black, rounded corners=5pt] (1714,13) -- (1690,13) -- (1683,27.5) -- (1690,42) -- (1714,42) -- cycle;
\node[text=white!80!black, font=\fp] at (1700,27) {‹};
\fill[black, rounded corners=5pt] (1930,13) -- (1896,13) -- (1889,27.5) -- (1896,42) -- (1930,42) -- cycle;
\node[text=white!80!black, font=\fp] at (1908,27) {‹};
\end{scope}
\end{tikzpicture}
\end{document}
